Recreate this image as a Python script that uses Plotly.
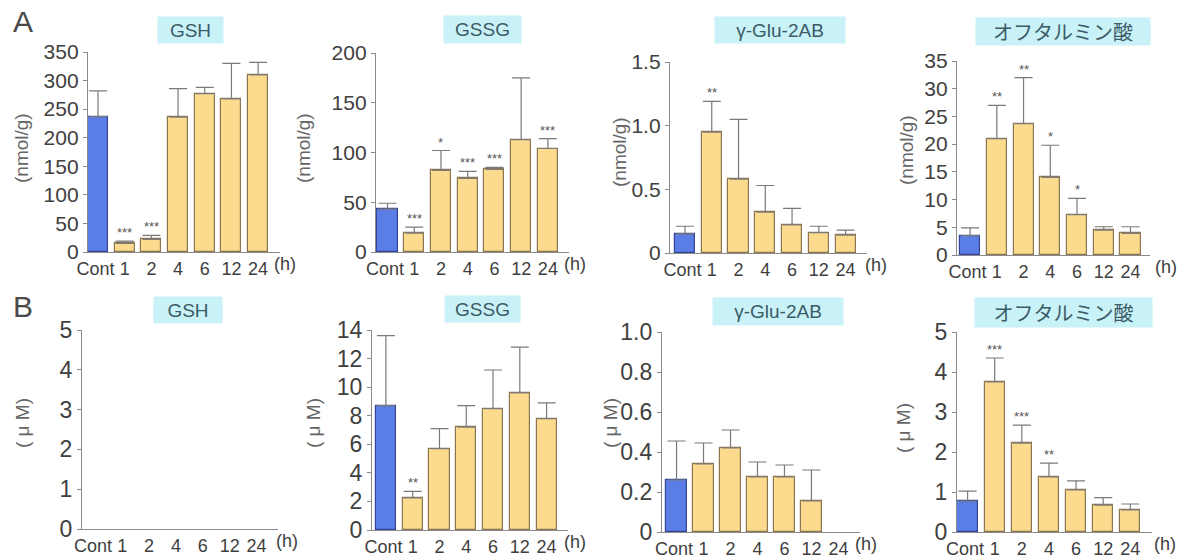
import plotly.graph_objects as go

categories = ["Cont", "1", "2", "4", "6", "12", "24"]

# Panel A (tissue, nmol/g): mean and top of error bar
a_gsh_mean = [237, 15, 22, 236, 277, 268, 310]
a_gsh_top = [282, 19, 29, 286, 288, 330, 332]
a_gsh_sig = ["", "***", "***", "", "", "", ""]

a_gssg_mean = [43, 19, 82, 74, 83, 113, 104]
a_gssg_top = [49, 25, 102, 81, 85, 175, 114]
a_gssg_sig = ["", "***", "*", "***", "***", "", "***"]

a_glu_mean = [0.15, 0.95, 0.58, 0.32, 0.22, 0.16, 0.14]
a_glu_top = [0.21, 1.19, 1.05, 0.53, 0.35, 0.21, 0.18]
a_glu_sig = ["", "**", "", "", "", "", ""]

a_oph_mean = [3.5, 21.0, 23.7, 14.0, 7.3, 4.5, 3.9]
a_oph_top = [4.9, 27.0, 32.0, 19.8, 10.2, 5.1, 5.1]
a_oph_sig = ["", "**", "**", "*", "*", "", ""]

# Panel B (plasma, μM)
b_gsh_mean = [None] * 7
b_gsh_top = [None] * 7
b_gsh_sig = [""] * 7

b_gssg_mean = [8.7, 2.25, 5.7, 7.2, 8.5, 9.6, 7.8]
b_gssg_top = [13.6, 2.7, 7.1, 8.7, 11.2, 12.8, 8.9]
b_gssg_sig = ["", "**", "", "", "", "", ""]

b_glu_mean = [0.26, 0.34, 0.42, 0.275, 0.275, 0.155, None]
b_glu_top = [0.455, 0.445, 0.51, 0.35, 0.335, 0.31, None]
b_glu_sig = [""] * 7

b_oph_mean = [0.77, 3.75, 2.22, 1.38, 1.05, 0.67, 0.55]
b_oph_top = [1.02, 4.35, 2.67, 1.72, 1.28, 0.86, 0.70]
b_oph_sig = ["", "***", "***", "**", "", "", ""]

titles = ["GSH", "GSSG", "γ-Glu-2AB", "オフタルミン酸"]

a_ticks = [[0, 50, 100, 150, 200, 250, 300, 350], [0, 50, 100, 150, 200],
           [0, 0.5, 1.0, 1.5], [0, 5, 10, 15, 20, 25, 30, 35]]
a_ticktext = [["0", "50", "100", "150", "200", "250", "300", "350"],
              ["0", "50", "100", "150", "200"],
              ["0", "0.5", "1.0", "1.5"],
              ["0", "5", "10", "15", "20", "25", "30", "35"]]
b_ticks = [[0, 1, 2, 3, 4, 5], [0, 2, 4, 6, 8, 10, 12, 14],
           [0, 0.2, 0.4, 0.6, 0.8, 1.0], [0, 1, 2, 3, 4, 5]]
b_ticktext = [["0", "1", "2", "3", "4", "5"],
              ["0", "2", "4", "6", "8", "10", "12", "14"],
              ["0", "0.2", "0.4", "0.6", "0.8", "1.0"],
              ["0", "1", "2", "3", "4", "5"]]

W, H = 1181, 559
def px(p):
    return p / W
def py(p):
    return 1 - p / H

BLUE = "#5a7de6"
BLUE_LINE = "#34469a"
YEL = "#fcda8e"
YEL_LINE = "#8a7650"
TXT = "#404040"
TITLE_BG = "#c8f2f8"
TITLE_TXT = "#3c5b66"
SANS = "Liberation Sans, Arial, sans-serif"

panels = [
    dict(mean=a_gsh_mean, top=a_gsh_top, sig=a_gsh_sig, ymax=350, ticks=a_ticks[0], tt=a_ticktext[0],
         box=(88, 280, 52, 252), xr=(-0.375, 6.82), tbox=(190, 30, 65, 26), yt=(22, 148), h=272,
         ytitle="(nmol/g)", row="A", title=titles[0]),
    dict(mean=a_gssg_mean, top=a_gssg_top, sig=a_gssg_sig, ymax=200, ticks=a_ticks[1], tt=a_ticktext[1],
         box=(376, 569, 53, 252), xr=(-0.43, 6.79), tbox=(482, 29, 77, 27), yt=(304, 148), h=562,
         ytitle="(nmol/g)", row="A", title=titles[1]),
    dict(mean=a_glu_mean, top=a_glu_top, sig=a_glu_sig, ymax=1.5, ticks=a_ticks[2], tt=a_ticktext[2],
         box=(670, 867, 62, 253), xr=(-0.56, 6.8), tbox=(780, 30, 130, 26), yt=(619, 152), h=863,
         ytitle="(nmol/g)", row="A", title=titles[2]),
    dict(mean=a_oph_mean, top=a_oph_top, sig=a_oph_sig, ymax=35, ticks=a_ticks[3], tt=a_ticktext[3],
         box=(957, 1150, 61, 255), xr=(-0.49, 6.73), tbox=(1063, 31, 174, 27), yt=(906, 150), h=1153,
         ytitle="(nmol/g)", row="A", title=titles[3]),
    dict(mean=b_gsh_mean, top=b_gsh_top, sig=b_gsh_sig, ymax=5, ticks=b_ticks[0], tt=b_ticktext[0],
         box=(82, 278, 330, 529), xr=(-0.5, 6.8), tbox=(188, 310, 68, 26), yt=(22, 423), h=274,
         ytitle="( μ M)", row="B", title=titles[0]),
    dict(mean=b_gssg_mean, top=b_gssg_top, sig=b_gssg_sig, ymax=14, ticks=b_ticks[1], tt=b_ticktext[1],
         box=(372, 568, 330, 530), xr=(-0.52, 6.8), tbox=(482, 309, 75, 26), yt=(313, 423), h=562,
         ytitle="( μ M)", row="B", title=titles[1]),
    dict(mean=b_glu_mean, top=b_glu_top, sig=b_glu_sig, ymax=1.0, ticks=b_ticks[2], tt=b_ticktext[2],
         box=(662, 860, 332, 532), xr=(-0.54, 6.8), tbox=(778, 311, 130, 27), yt=(610, 423), h=853,
         ytitle="( μ M)", row="B", title=titles[2]),
    dict(mean=b_oph_mean, top=b_oph_top, sig=b_oph_sig, ymax=5, ticks=b_ticks[3], tt=b_ticktext[3],
         box=(957, 1152, 332, 532), xr=(-0.39, 6.8), tbox=(1063, 312, 177, 29), yt=(903, 428), h=1152,
         ytitle="( μ M)", row="B", title=titles[3]),
]

fig = go.Figure()
annotations = []
x_pos = list(range(len(categories)))
tick_text = [c + "\u00a0" if c == "Cont" else c for c in categories]

for k, p in enumerate(panels, start=1):
    sfx = "" if k == 1 else str(k)
    xref, yref = "x" + sfx, "y" + sfx
    err = [(t - m) if (t is not None and m is not None) else None for m, t in zip(p["mean"], p["top"])]
    fills = [BLUE] + [YEL] * 6
    lines = [BLUE_LINE] + [YEL_LINE] * 6
    fig.add_trace(go.Bar(
        x=x_pos, y=p["mean"], width=0.75,
        marker=dict(color=fills, line=dict(color=lines, width=1.2)),
        error_y=dict(type="data", symmetric=False, array=err, arrayminus=[0] * 7,
                     color="#7a7a7a", thickness=1.2, width=9),
        xaxis=xref, yaxis=yref, showlegend=False, hoverinfo="skip",
    ))
    left, right, top, bottom = p["box"]
    fontsize_y = 21 if p["row"] == "A" else 23
    fig.layout["xaxis" + sfx] = dict(
        domain=[px(left), px(right)], anchor=yref, range=list(p["xr"]),
        tickvals=x_pos, ticktext=tick_text, ticks="", ticklen=0, tickangle=0,
        showline=True, linecolor="#8a8a8a", linewidth=1.3, showgrid=False, zeroline=False,
        tickfont=dict(family=SANS, size=18, color=TXT),
        automargin=False, fixedrange=True,
    )
    fig.layout["yaxis" + sfx] = dict(
        domain=[py(bottom), py(top)], anchor=xref, range=[0, p["ymax"]],
        tickvals=p["ticks"], ticktext=p["tt"], ticks="outside", ticklen=4, tickcolor="#8a8a8a",
        showline=True, linecolor="#8a8a8a", linewidth=1.3, showgrid=False, zeroline=False,
        tickfont=dict(family=SANS, size=fontsize_y, color=TXT),
        automargin=False, fixedrange=True,
    )
    for i, s in enumerate(p["sig"]):
        if s:
            annotations.append(dict(x=i, y=p["top"][i], xref=xref, yref=yref, text=s,
                                    showarrow=False, yanchor="bottom", yshift=-1,
                                    font=dict(family=SANS, size=13, color="#555555")))
    cx, cy, bw, bh = p["tbox"]
    is_jp = any(ord(c) > 0x3000 for c in p["title"])
    annotations.append(dict(x=px(cx), y=py(cy), xref="paper", yref="paper", text=p["title"],
                            showarrow=False, xanchor="center", yanchor="middle",
                            width=bw, height=bh, bgcolor=TITLE_BG, borderpad=0,
                            font=dict(family=("Noto Sans CJK JP" if is_jp else SANS),
                                      size=(20 if is_jp else 19), color=TITLE_TXT)))
    tx, ty = p["yt"]
    annotations.append(dict(x=px(tx), y=py(ty), xref="paper", yref="paper", text=p["ytitle"],
                            textangle=-90, showarrow=False, xanchor="center", yanchor="middle",
                            font=dict(family=SANS, size=19, color="#666666")))
    annotations.append(dict(x=px(p["h"]), y=py(bottom + 12), xref="paper", yref="paper", text="(h)",
                            showarrow=False, xanchor="left", yanchor="middle",
                            font=dict(family=SANS, size=18, color=TXT)))

for letter, (lx, ly) in [("A", (23, 21)), ("B", (23, 306))]:
    annotations.append(dict(x=px(lx), y=py(ly), xref="paper", yref="paper", text=letter,
                            showarrow=False, xanchor="center", yanchor="middle",
                            font=dict(family=SANS, size=30, color="#4a4a4a")))

fig.update_layout(
    width=W, height=H, margin=dict(l=0, r=0, t=0, b=0, autoexpand=False),
    paper_bgcolor="white", plot_bgcolor="white",
    annotations=annotations, bargap=0,
)

fig.write_html("out.html", config={"displayModeBar": False},
               post_script="document.body.style.margin='0';")
